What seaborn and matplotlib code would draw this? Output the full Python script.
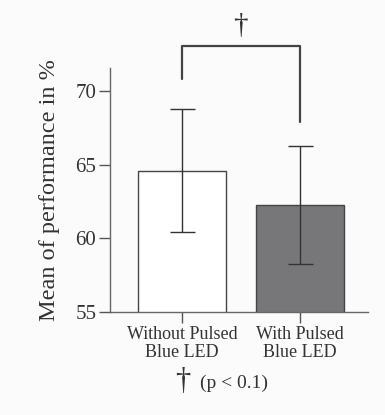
import numpy as np
import pandas as pd
import matplotlib
matplotlib.use("Agg")
import matplotlib.pyplot as plt
import seaborn as sns

# dati
conditions = ["Without Pulsed\nBlue LED", "With Pulsed\nBlue LED"]
means = [64.6, 62.25]
sds = [4.15, 4.0]
bar_colors = ["#ffffff", "#76767a"]
yticks = [55, 60, 65, 70]

df = pd.DataFrame({"condition": conditions, "mean": means})

sns.set_style("white")
plt.rcParams["font.family"] = ["Liberation Serif", "DejaVu Serif"]

fig = plt.figure(figsize=(3.85, 4.15), dpi=100)
fig.patch.set_facecolor("#fbfbfb")
ax = fig.add_axes([0.286, 0.248, 0.670, 0.588])
ax.set_facecolor("#fbfbfb")

sns.barplot(data=df, x="condition", y="mean", hue="condition", palette=bar_colors,
            legend=False, errorbar=None, width=0.75, edgecolor="#444444",
            linewidth=1.0, ax=ax)
ax.errorbar(np.arange(len(means)), means, yerr=sds, fmt="none", ecolor="#333333",
            elinewidth=1.0, capsize=9, capthick=1.0, zorder=5)

ax.set_ylim(55, 71.55)
ax.set_xlim(-0.61, 1.58)
ax.set_yticks(yticks)
ax.set_yticklabels([str(t) for t in yticks], fontsize=15, color="#333333")
ax.tick_params(axis="y", left=True, direction="out", length=8, width=1.0,
               color="#555555", pad=2)
ax.tick_params(axis="x", bottom=True, direction="out", length=8, width=1.0,
               color="#555555", pad=2, labelsize=13, labelcolor="#333333")
plt.setp(ax.get_xticklabels(), linespacing=1.1)
ax.set_xlabel("")
ax.set_ylabel("Mean of performance in %", fontsize=17.5, color="#333333", labelpad=11)
for s in ["top", "right"]:
    ax.spines[s].set_visible(False)
for s in ["left", "bottom"]:
    ax.spines[s].set_color("#666666")
    ax.spines[s].set_linewidth(1.0)

# parentesi di significatività
ax.plot([0, 0, 1, 1], [70.8, 73.06, 73.06, 67.9], color="#444444", lw=1.6,
        clip_on=False)
ax.text(0.5, 73.5, "†", ha="center", va="bottom", fontsize=21, color="#333333")

# nota in fondo
fig.text(0.475, 0.045, "†", ha="center", va="bottom", fontsize=22, color="#333333")
fig.text(0.52, 0.055, "(p < 0.1)", ha="left", va="bottom", fontsize=14,
         color="#333333")

fig.savefig("out.png", dpi=100, facecolor=fig.get_facecolor())
